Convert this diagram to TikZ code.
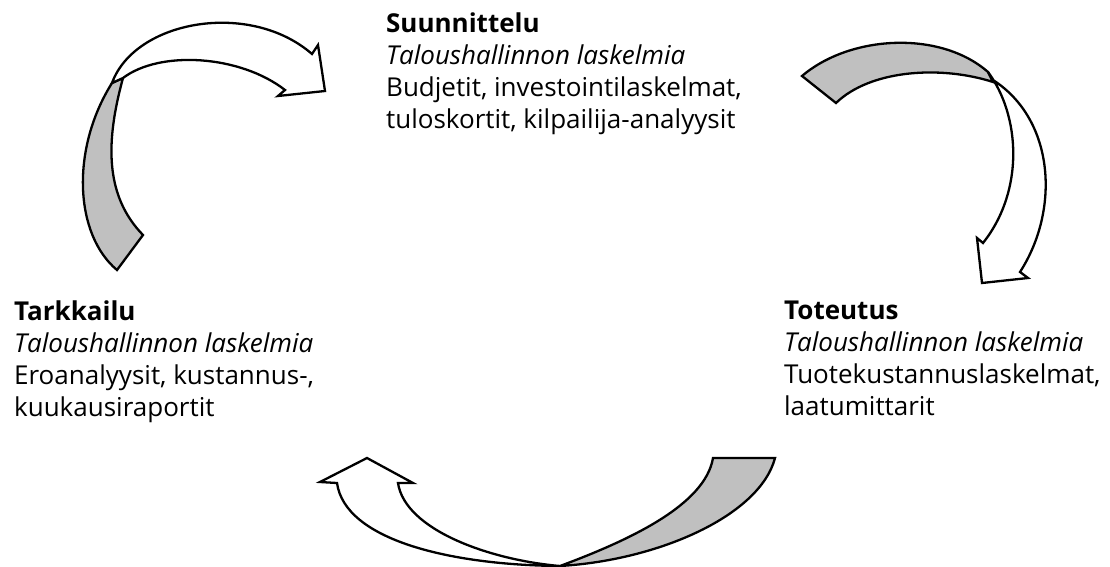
\documentclass[tikz,border=0pt]{standalone}
\usepackage{fontspec}
\setmainfont{Open Sans}
\definecolor{backgray}{RGB}{192,192,192}
\begin{document}
\begin{tikzpicture}[x=1pt,y=-1pt,line width=2.3pt,line join=miter,
  ribbonback/.style={draw=black,fill=backgray},
  ribbonfront/.style={draw=black,fill=white},
  lbl/.style={anchor=north west,inner sep=0pt,align=left,font=\fontsize{26}{32}\selectfont}]
\useasboundingbox (0,0) rectangle (1110,567);

% arrow 1: Tarkkailu -> Suunnittelu
\path[ribbonback] (117,270) .. controls (75,235) and (70,150) .. (112,83)
  -- (123,78) .. controls (106,140) and (104,195) .. (143,235) -- cycle;
\path[ribbonfront] (112,83) .. controls (135,20) and (250,0) .. (312,54)
  -- (318,45) -- (325,91) -- (278,96) -- (285,90)
  .. controls (240,55) and (160,50) .. (123,78) -- cycle;

% arrow 2: Suunnittelu -> Toteutus
\path[ribbonback] (802,76) .. controls (850,35) and (940,30) .. (988,72)
  -- (993,82) .. controls (940,65) and (870,70) .. (836,103) -- cycle;
\path[ribbonfront] (988,72) .. controls (1020,115) and (1025,190) .. (983,243)
  -- (977,238) -- (982,283) -- (1028,278) -- (1020,272)
  .. controls (1060,210) and (1055,120) .. (993,80) -- cycle;

% arrow 3: Toteutus -> Tarkkailu
\path[ribbonback] (713,458) -- (775,458) .. controls (760,515) and (660,560) .. (560,566)
  .. controls (630,540) and (705,505) .. (713,458) -- cycle;
\path[ribbonfront] (560,566) .. controls (450,565) and (345,540) .. (337,483)
  -- (320,482) -- (367,458) -- (413,483) -- (398,483)
  .. controls (405,530) and (490,560) .. (560,566) -- cycle;

\node[lbl] (suunnittelu) at (385,12) {\textbf{Suunnittelu}\\\textit{Taloushallinnon laskelmia}\\Budjetit, investointilaskelmat,\\tuloskortit, kilpailija-analyysit};
\node[lbl] (tarkkailu) at (13,300) {\textbf{Tarkkailu}\\\textit{Taloushallinnon laskelmia}\\Eroanalyysit, kustannus-,\\kuukausiraportit};
\node[lbl] (toteutus) at (783,300) {\textbf{Toteutus}\\\textit{Taloushallinnon laskelmia}\\Tuotekustannuslaskelmat,\\laatumittarit};
\end{tikzpicture}
\end{document}
